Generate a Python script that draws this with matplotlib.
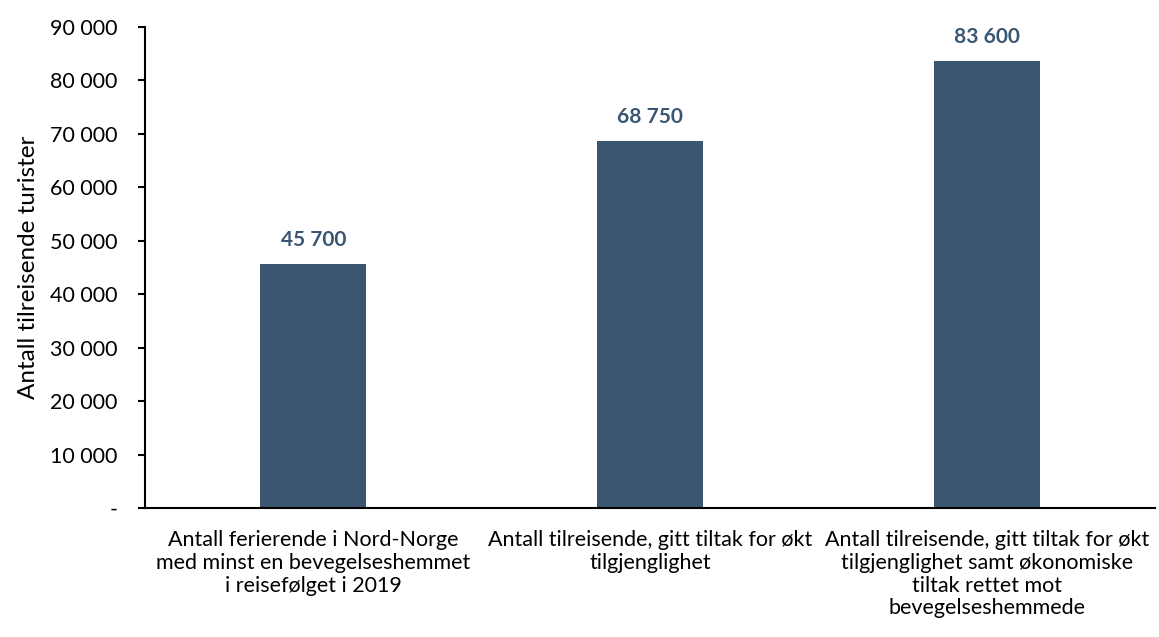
import matplotlib.pyplot as plt
from matplotlib.ticker import FuncFormatter

# Data
categories = [
    "Antall ferierende i Nord-Norge\nmed minst en bevegelseshemmet\ni reisefølget i 2019",
    "Antall tilreisende, gitt tiltak for økt\ntilgjenglighet",
    "Antall tilreisende, gitt tiltak for økt\ntilgjenglighet samt økonomiske\ntiltak rettet mot\nbevegelseshemmede",
]
values = [45700, 68750, 83600]

bar_color = "#3b5672"
font = "Lato"

fig = plt.figure(figsize=(11.59, 6.37), dpi=100)
ax = fig.add_axes([145 / 1159, 129 / 637, 1010 / 1159, 481 / 637])

x = range(len(values))
ax.bar(x, values, width=0.315, color=bar_color)

for xi, v in zip(x, values):
    ax.text(xi, v + 2600, f"{v:,}".replace(",", " "), ha="center", va="bottom",
            fontsize=15, fontweight="bold", color=bar_color, family=font)

ax.set_xlim(-0.5, 2.5)
ax.set_ylim(0, 90000)
ax.set_yticks(range(0, 90001, 10000))
ax.yaxis.set_major_formatter(FuncFormatter(
    lambda v, p: "-" if v == 0 else f"{int(v):,}".replace(",", " ")))

ax.set_xticks(list(x))
ax.set_xticklabels(categories, fontsize=15.5, family=font, linespacing=1.17)
ax.tick_params(axis="x", length=0, pad=16)
ax.tick_params(axis="y", length=5, width=1.5, labelsize=15.5, pad=15)
for lbl in ax.get_yticklabels():
    lbl.set_family(font)

ax.set_ylabel("Antall tilreisende turister", fontsize=17.5, family=font, labelpad=8)

for side in ["top", "right"]:
    ax.spines[side].set_visible(False)
for side in ["left", "bottom"]:
    ax.spines[side].set_linewidth(1.5)

fig.savefig("out.png", dpi=100)
